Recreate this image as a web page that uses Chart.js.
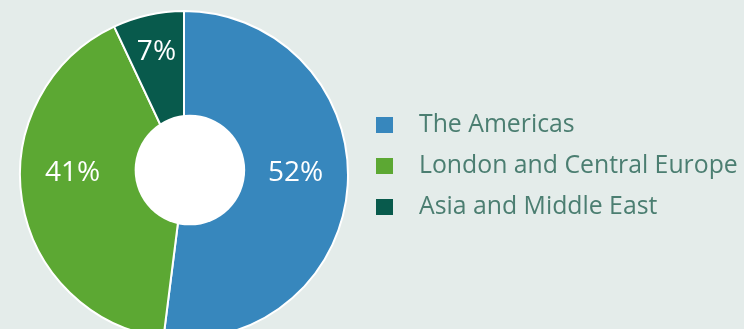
<!DOCTYPE html>
<html>
<head>
<meta charset="utf-8">
<script src="https://cdn.jsdelivr.net/npm/chart.js@4.4.1/dist/chart.umd.min.js"></script>
<style>
  html, body { margin: 0; padding: 0; background: #e4ecea; overflow: hidden; }
  #wrap { position: relative; width: 744px; height: 350px; }
</style>
</head>
<body>
<div id="wrap"><canvas id="chart"></canvas></div>
<script>
// Revenue split by region
const regions = ['The Americas', 'London and Central Europe', 'Asia and Middle East'];
const shares = [52, 41, 7];
const sliceColors = ['#3787bd', '#5ca833', '#085a4c'];

const FONT = '"Open Sans", "Noto Sans", sans-serif';

// White centre disc, set slightly up and right of the pie centre
const centreDisc = {
  id: 'centreDisc',
  afterDatasetsDraw(chart) {
    const arc = chart.getDatasetMeta(0).data[0];
    const r = arc.outerRadius;
    const ctx = chart.ctx;
    ctx.save();
    ctx.fillStyle = '#ffffff';
    ctx.beginPath();
    ctx.arc(arc.x + r * 0.036, arc.y - r * 0.03, r * 0.337, 0, Math.PI * 2);
    ctx.fill();
    ctx.restore();
  }
};

// Percentage labels inside the slices
const sliceLabels = {
  id: 'sliceLabels',
  afterDatasetsDraw(chart) {
    const ctx = chart.ctx;
    const meta = chart.getDatasetMeta(0);
    ctx.save();
    ctx.fillStyle = '#ffffff';
    ctx.font = '28px ' + FONT;
    ctx.textAlign = 'center';
    ctx.textBaseline = 'middle';
    meta.data.forEach((arc, i) => {
      const r = arc.outerRadius;
      const mid = (arc.startAngle + arc.endAngle) / 2;
      // large slices crossing the horizontal get their label on the horizontal
      const spans = a => arc.startAngle <= a && arc.endAngle >= a;
      let x, y;
      if (spans(0) || spans(Math.PI)) {
        const dir = spans(0) ? 1 : -1;
        x = arc.x + dir * r * 0.68;
        y = arc.y - 2;
      } else {
        x = arc.x + Math.cos(mid) * r * 0.77;
        y = arc.y + Math.sin(mid) * r * 0.77;
      }
      ctx.fillText(chart.data.datasets[0].data[i] + '%', x, y);
    });
    ctx.restore();
  }
};

// Legend to the right of the pie
const sideLegend = {
  id: 'sideLegend',
  afterDraw(chart) {
    const ctx = chart.ctx;
    const arc = chart.getDatasetMeta(0).data[0];
    const r = arc.outerRadius;
    const left = arc.x + r + 28;
    const rowGap = 41;
    const y0 = arc.y - 50;
    ctx.save();
    ctx.font = '24.8px ' + FONT;
    ctx.textBaseline = 'middle';
    ctx.textAlign = 'left';
    chart.data.labels.forEach((lab, i) => {
      const y = y0 + i * rowGap;
      ctx.fillStyle = chart.data.datasets[0].backgroundColor[i];
      ctx.fillRect(left, y - 8, 17, 16);
      ctx.fillStyle = '#4b7e71';
      ctx.fillText(lab, left + 43, y);
    });
    ctx.restore();
  }
};

new Chart(document.getElementById('chart'), {
  type: 'pie',
  data: {
    labels: regions,
    datasets: [{
      data: shares,
      backgroundColor: sliceColors,
      borderColor: '#ffffff',
      borderWidth: 2
    }]
  },
  options: {
    responsive: true,
    maintainAspectRatio: false,
    animation: false,
    layout: { padding: { left: 19, top: 10, bottom: 10, right: 395 } },
    plugins: {
      legend: { display: false },
      tooltip: { enabled: false }
    }
  },
  plugins: [centreDisc, sliceLabels, sideLegend]
});
</script>
</body>
</html>
